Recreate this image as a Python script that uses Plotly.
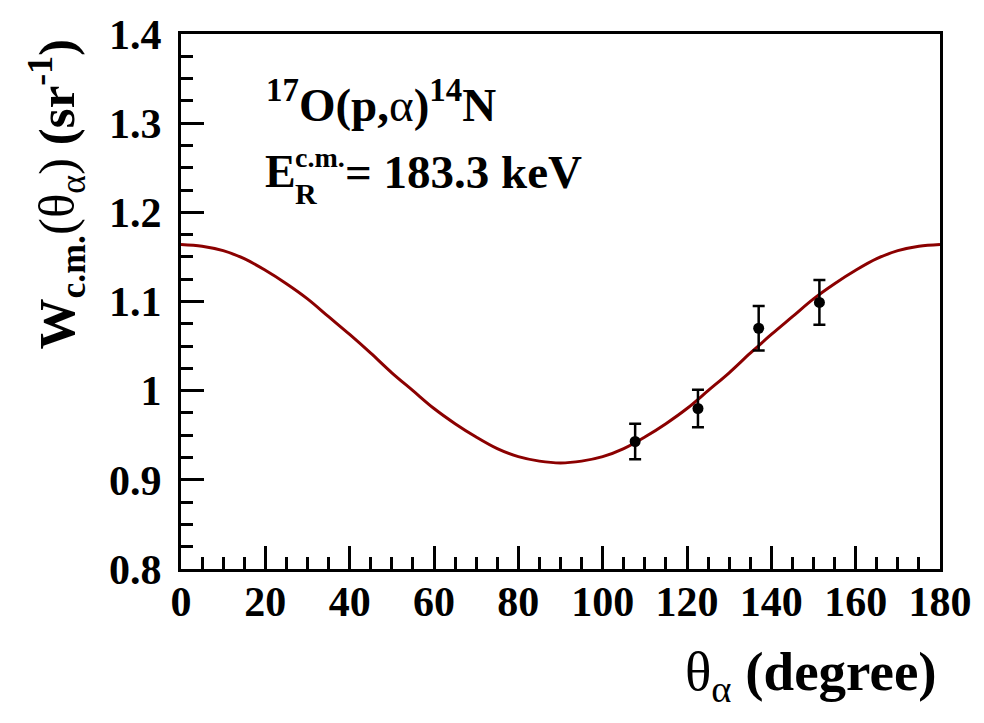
import plotly.graph_objects as go

# Data points
theta_pts = [107.7, 122.6, 137.0, 151.4]
w_pts = [0.943, 0.980, 1.070, 1.099]
w_err = [0.020, 0.021, 0.025, 0.025]

# Fitted curve, read at 5-degree steps
theta_curve = [0, 5, 10, 15, 20, 25, 30, 35, 40, 45, 50, 55, 60, 65, 70, 75, 80, 85, 90,
               95, 100, 105, 110, 115, 120, 125, 130, 135, 140, 145, 150, 155, 160, 165,
               170, 175, 180]
w_curve = [1.164, 1.162, 1.157, 1.148, 1.135, 1.120, 1.103, 1.083, 1.063, 1.042,
           1.020, 1.000, 0.980, 0.963, 0.948, 0.935, 0.926, 0.921, 0.919,
           0.921, 0.926, 0.935, 0.948, 0.963, 0.980, 1.000, 1.020, 1.042, 1.063,
           1.083, 1.103, 1.120, 1.135, 1.148, 1.157, 1.162, 1.164]

x_ticks = [0, 20, 40, 60, 80, 100, 120, 140, 160, 180]
y_ticks = [0.8, 0.9, 1.0, 1.1, 1.2, 1.3, 1.4]
y_tick_text = ["0.8", "0.9", "1", "1.1", "1.2", "1.3", "1.4"]

FONT = "'Liberation Serif', 'Times New Roman', 'DejaVu Serif', serif"

fig = go.Figure()
fig.add_trace(go.Scatter(
    x=theta_curve, y=w_curve, mode="lines", line_shape="spline",
    line=dict(color="#8b0000", width=3), showlegend=False, hoverinfo="skip"))
fig.add_trace(go.Scatter(
    x=theta_pts, y=w_pts, mode="markers",
    marker=dict(color="black", size=11),
    error_y=dict(type="data", array=w_err, color="black", thickness=2.5, width=6),
    showlegend=False))

L, R, T, B = 181, 41, 33, 154
W, H = 984, 723
pw, ph = W - L - R, H - T - B

def px(x):
    return (x - L) / pw

def py(y):
    return (H - B - y) / ph

axis_common = dict(
    showline=True, linecolor="black", linewidth=3, mirror=True,
    ticks="inside", ticklen=23, tickwidth=3, tickcolor="black",
    showgrid=False, zeroline=False,
    tickfont=dict(family=FONT, size=42, color="black", weight="bold"),
)

fig.update_xaxes(range=[0, 180], tickvals=x_ticks,
                 minor=dict(dtick=5, ticks="inside", ticklen=12, tickwidth=3, tickcolor="black"),
                 ticklabelstandoff=-6, **axis_common)
fig.update_yaxes(range=[0.8, 1.4], tickvals=y_ticks, ticktext=y_tick_text,
                 minor=dict(dtick=0.025, ticks="inside", ticklen=12, tickwidth=3, tickcolor="black"),
                 ticklabelstandoff=8, **axis_common)

ann = []
# x title
ann.append(dict(text="θ<sub>α</sub> <b>(degree)</b>", x=px(942), y=py(676),
                xanchor="right", yanchor="middle", showarrow=False,
                font=dict(family=FONT, size=55, color="black")))
# y title
ann.append(dict(text="<b>W<sub>c.m.</sub></b>(θ<sub>α</sub>) <b>(sr<sup>-1</sup>)</b>",
                x=px(56), y=py(36), textangle=-90,
                xanchor="center", yanchor="top", showarrow=False,
                font=dict(family=FONT, size=51, color="black")))
# reaction label
ann.append(dict(text="<b><sup>17</sup>O(p,</b>α<b>)<sup>14</sup>N</b>", x=px(264), y=py(101),
                xanchor="left", yanchor="middle", showarrow=False,
                font=dict(family=FONT, size=47, color="black")))
# E_R^c.m. = 183.3 keV
ann.append(dict(text="<b>E</b>", x=px(263), y=py(171),
                xanchor="left", yanchor="middle", showarrow=False,
                font=dict(family=FONT, size=46, color="black")))
ann.append(dict(text="<b>c.m.</b>", x=px(293), y=py(157),
                xanchor="left", yanchor="middle", showarrow=False,
                font=dict(family=FONT, size=28, color="black")))
ann.append(dict(text="<b>R</b>", x=px(293), y=py(193),
                xanchor="left", yanchor="middle", showarrow=False,
                font=dict(family=FONT, size=30, color="black")))
ann.append(dict(text="<b>= 183.3 keV</b>", x=px(344), y=py(171),
                xanchor="left", yanchor="middle", showarrow=False,
                font=dict(family=FONT, size=47, color="black")))
for a in ann:
    a["xref"] = "paper"
    a["yref"] = "paper"

fig.update_layout(
    width=W, height=H,
    margin=dict(l=L, r=R, t=T, b=B),
    paper_bgcolor="white", plot_bgcolor="white",
    font=dict(family=FONT),
    annotations=ann,
)

fig.write_html("out.html")
